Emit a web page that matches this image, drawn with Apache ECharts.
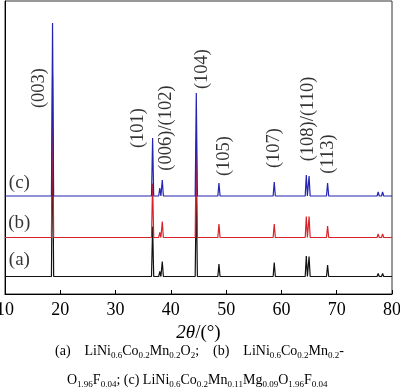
<!DOCTYPE html>
<html><head><meta charset="utf-8">
<script src="https://cdn.jsdelivr.net/npm/echarts@6/dist/echarts.min.js"></script>
<style>html,body{margin:0;padding:0;background:#fff}#c{width:400px;height:390px}</style>
</head><body><div id="c"></div>
<script>
// Peak positions (2θ, degrees)
var peakPos = [18.6, 36.7, 38.0, 38.45, 44.6, 48.7, 58.7, 64.5, 65.0, 68.35, 77.5, 78.3];
// Peak intensities above each pattern's baseline (a.u.)
var peaksA = [150, 50, 5, 15, 90, 12.5, 14, 20.5, 20, 11.5, 3, 3];
var peaksB = [162, 54, 5, 16, 97, 13.5, 13.5, 21, 21, 11.5, 3.5, 3.5];
var peaksC = [173, 58, 8, 16, 103, 13, 14, 21, 20, 13, 4, 4];
// Vertical stacking offsets of the patterns (a.u.)
var offsets = {a: 17.5, b: 56.5, c: 98};
var sampleLabels = ['(a)', '(b)', '(c)'];
var hklLabels = ['(003)', '(101)', '(006)/(102)', '(104)', '(105)', '(107)', '(108)/(110)', '(113)'];
var xTicks = [10, 20, 30, 40, 50, 60, 70, 80];

var HW = 0.2;
function buildPattern(heights, off) {
  var pts = [[10, off]];
  for (var i = 0; i < peakPos.length; i++) {
    pts.push([peakPos[i] - HW, off]);
    pts.push([peakPos[i], off + heights[i]]);
    pts.push([peakPos[i] + HW, off]);
  }
  pts.push([80, off]);
  return pts;
}

var hklAnchors = [[16.2, 206], [34.15, 166], [39.2, 166], [45.7, 225], [49.7, 138], [58.6, 146], [64.75, 175], [68.4, 140]];
var sampleAnchors = [[12.6, 34], [12.6, 71], [12.6, 111]];

var serif = '"Liberation Serif","DejaVu Serif",serif';
var chart = echarts.init(document.getElementById('c'));
var sub = {fontSize: 9, fontFamily: serif, color: '#000', verticalAlign: 'bottom', lineHeight: 18};
var nrm = {fontSize: 14, fontFamily: serif, color: '#000', verticalAlign: 'middle', lineHeight: 18};

chart.setOption({
  animation: false,
  grid: {left: 5, right: 8, top: 1, bottom: 96, show: true, borderColor: '#333', borderWidth: 1,
         containLabel: false, outerBoundsMode: 'none'},
  xAxis: {
    type: 'value', min: 10, max: 80, interval: 10,
    axisLine: {lineStyle: {color: '#000', width: 1}},
    axisTick: {inside: true, length: 4, lineStyle: {color: '#000'}},
    axisLabel: {fontFamily: serif, fontSize: 18, color: '#000', margin: 7},
    splitLine: {show: false},
    name: '{i|2θ}{n|/(°)}', nameLocation: 'middle', nameGap: 29,
    nameTextStyle: {rich: {i: {fontFamily: serif, fontSize: 19, fontStyle: 'italic', color: '#000'}, n: {fontFamily: serif, fontSize: 19, color: '#000'}}}
  },
  yAxis: {
    type: 'value', min: 0, max: 293,
    axisLine: {show: true, lineStyle: {color: '#000'}},
    axisTick: {show: false}, axisLabel: {show: false}, splitLine: {show: false}
  },
  series: [
    {type: 'line', data: buildPattern(peaksA, offsets.a), showSymbol: false, lineStyle: {color: '#111', width: 1.2}, z: 2},
    {type: 'line', data: buildPattern(peaksB, offsets.b), showSymbol: false, lineStyle: {color: '#d8232a', width: 1.2}, z: 3},
    {type: 'line', data: buildPattern(peaksC, offsets.c), showSymbol: false, lineStyle: {color: '#2323b4', width: 1.2}, z: 4},
    {type: 'scatter', symbolSize: 0, z: 5,
      data: hklAnchors.map(function (p, i) { return {value: p, name: hklLabels[i]}; }),
      label: {show: true, position: 'inside', rotate: 90, formatter: '{b}', fontFamily: serif, fontSize: 18.5, color: '#000'}},
    {type: 'scatter', symbolSize: 0, z: 5,
      data: sampleAnchors.map(function (p, i) { return {value: p, name: sampleLabels[i]}; }),
      label: {show: true, position: 'inside', formatter: '{b}', fontFamily: serif, fontSize: 19, color: '#000'}}
  ],
  graphic: [
    {type: 'text', left: 55, top: 344, style: {
      text: '{n|(a)    LiNi}{s|0.6}{n|Co}{s|0.2}{n|Mn}{s|0.2}{n|O}{s|2}{n|;    (b)    LiNi}{s|0.6}{n|Co}{s|0.2}{n|Mn}{s|0.2}{n|-}',
      rich: {n: nrm, s: sub}}},
    {type: 'text', left: 67, top: 373, style: {
      text: '{n|O}{s|1.96}{n|F}{s|0.04}{n|; (c) LiNi}{s|0.6}{n|Co}{s|0.2}{n|Mn}{s|0.11}{n|Mg}{s|0.09}{n|O}{s|1.96}{n|F}{s|0.04}',
      rich: {n: nrm, s: sub}}}
  ]
});
</script></body></html>
